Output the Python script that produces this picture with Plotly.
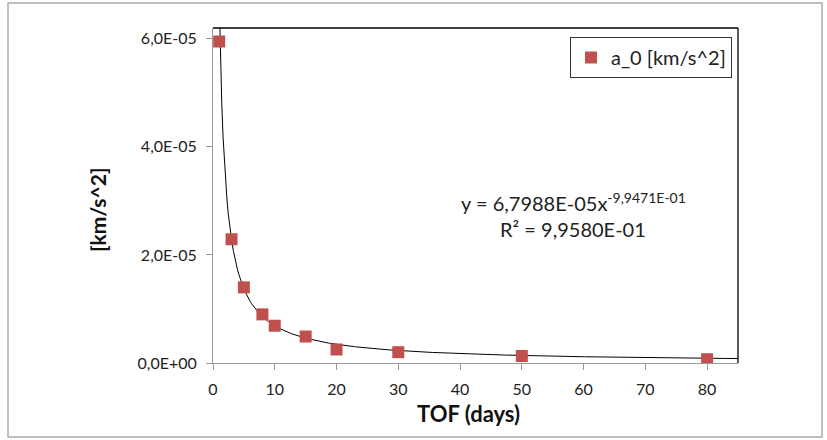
import numpy as np
import plotly.graph_objects as go

tof_days = [1, 3, 5, 8, 10, 15, 20, 30, 50, 80]
a0_values = [5.95e-5, 2.29e-5, 1.40e-5, 0.90e-5, 0.69e-5, 0.49e-5, 0.25e-5, 0.20e-5, 0.13e-5, 0.07e-5]
fit_coef = 6.7988e-05
fit_exp = -9.9471e-01
x_ticks = [0, 10, 20, 30, 40, 50, 60, 70, 80]
y_ticks = [0, 2e-5, 4e-5, 6e-5]
y_tick_labels = ["0,0E+00", "2,0E-05", "4,0E-05", "6,0E-05"]

W, H = 827, 440
L, R, T, B = 213, 738, 28, 363
pw, ph = R - L, B - T

FONT = "Lato, 'Open Sans', sans-serif"


def px(x):
    return (x - L) / pw


def py(y):
    return (B - y) / ph


fit_x = np.linspace(1, 85, 400)
fit_y = fit_coef * fit_x ** fit_exp

fig = go.Figure()
fig.add_trace(go.Scatter(x=fit_x, y=fit_y, mode="lines",
                         line=dict(color="black", width=1), showlegend=False,
                         hoverinfo="skip"))
fig.add_trace(go.Scatter(x=tof_days, y=a0_values, mode="markers",
                         name="a_0 [km/s^2]",
                         marker=dict(symbol="square", size=12, color="#C0504D",
                                     line=dict(width=0))))

fig.update_layout(
    width=W, height=H,
    margin=dict(l=L, r=W - R, t=T, b=H - B),
    paper_bgcolor="white", plot_bgcolor="white",
    font=dict(family=FONT, color="#222"),
    legend=dict(x=px(732), y=py(37), xanchor="right", yanchor="top",
                bordercolor="#333", borderwidth=1, bgcolor="white",
                font=dict(size=20, family=FONT, color="#222"),
                itemwidth=30, itemsizing="constant",
                tracegroupgap=0),
    xaxis=dict(range=[0, 85], tickvals=x_ticks, showgrid=False, zeroline=False,
               showline=True, linecolor="#999", linewidth=1,
               ticks="outside", tickcolor="#999", ticklen=6,
               ticklabelstandoff=6,
               tickfont=dict(size=16, family=FONT, color="#222")),
    yaxis=dict(range=[0, 6.2e-5], tickvals=y_ticks, ticktext=y_tick_labels,
               showgrid=False, zeroline=False,
               showline=True, linecolor="#999", linewidth=1,
               ticks="outside", tickcolor="#999", ticklen=6,
               ticklabelstandoff=6,
               tickfont=dict(size=16, family=FONT, color="#222")),
)

# plot-area border (top & right black)
fig.add_shape(type="line", xref="paper", yref="paper", x0=0, x1=1, y0=1, y1=1,
              line=dict(color="black", width=1.3))
fig.add_shape(type="line", xref="paper", yref="paper", x0=1, x1=1, y0=0, y1=1,
              line=dict(color="black", width=1.3))
# outer chart border
fig.add_shape(type="rect", xref="paper", yref="paper",
              x0=px(8), x1=px(822), y0=py(437), y1=py(3),
              line=dict(color="#aaa", width=1.5), layer="below")

# axis titles
fig.add_annotation(xref="paper", yref="paper", x=px(468), y=py(413),
                   xanchor="center", yanchor="middle",
                   text="<b>TOF (days)</b>", showarrow=False,
                   font=dict(size=22, family=FONT, color="#111"))
fig.add_annotation(xref="paper", yref="paper", x=px(97), y=py(210),
                   xanchor="center", yanchor="middle", textangle=-90,
                   text="<b>[km/s^2]</b>", showarrow=False,
                   font=dict(size=21, family=FONT, color="#111"))

# trendline equation
fig.add_annotation(xref="paper", yref="paper", x=px(573), y=py(202),
                   xanchor="center", yanchor="middle",
                   text="y = 6,7988E-05x<sup>-9,9471E-01</sup>", showarrow=False,
                   font=dict(size=20, family=FONT, color="#222"))
fig.add_annotation(xref="paper", yref="paper", x=px(573), y=py(229),
                   xanchor="center", yanchor="middle",
                   text="R² = 9,9580E-01", showarrow=False,
                   font=dict(size=20, family=FONT, color="#222"))

fig.write_html("out.html")
